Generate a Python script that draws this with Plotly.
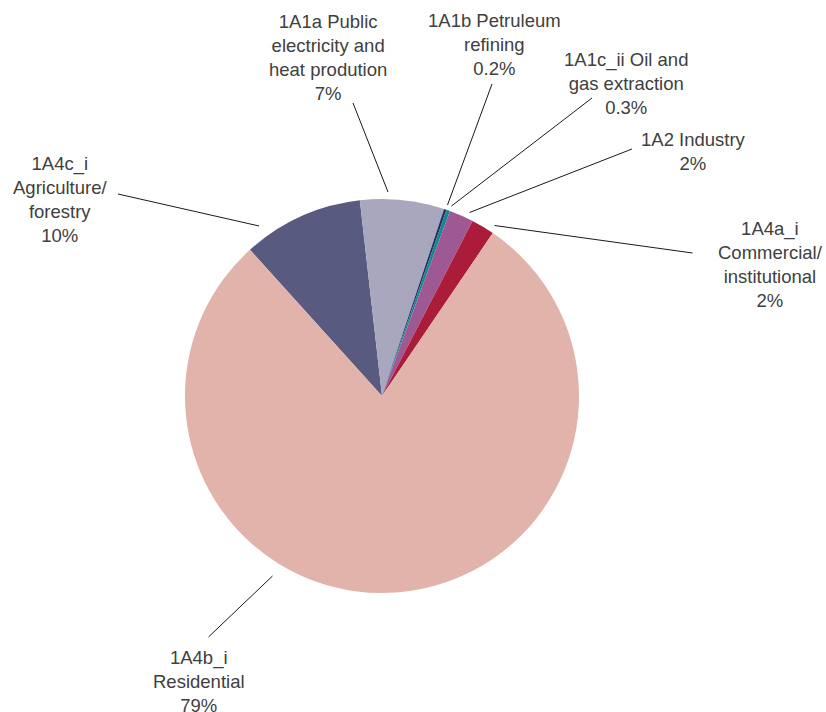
import plotly.graph_objects as go

W, H = 826, 712

# ---- data ----
categories = [
    "1A4c_i Agriculture/forestry",
    "1A1a Public electricity and heat prodution",
    "1A1b Petruleum refining",
    "1A1c_ii Oil and gas extraction",
    "1A2 Industry",
    "1A4a_i Commercial/institutional",
    "1A4b_i Residential",
]
shares = [9.9, 6.9, 0.2, 0.3, 2.0, 1.9, 78.8]
label_texts = [
    "1A4c_i<br>Agriculture/<br>forestry<br>10%",
    "1A1a Public<br>electricity and<br>heat prodution<br>7%",
    "1A1b Petruleum<br>refining<br>0.2%",
    "1A1c_ii Oil and<br>gas extraction<br>0.3%",
    "1A2 Industry<br>2%",
    "1A4a_i<br>Commercial/<br>institutional<br>2%",
    "1A4b_i<br>Residential<br>79%",
]

# ---- styles / layout ----
colors = ["#585a80", "#a9a7be", "#1f2f66", "#16878c", "#9e5894", "#aa1c3a", "#e1b3aa"]
label_pos = [(60, 199), (328, 57), (494, 45), (626, 83), (693, 152), (770, 265), (199, 681)]
leaders = [
    ((118, 194), (259, 226)),
    ((353, 103), (388, 192)),
    ((492, 84), (447.5, 205)),
    ((592, 98), (451.5, 206)),
    ((632, 149), (469.5, 212.5)),
    ((692.5, 253), (494.5, 225.5)),
    ((272.5, 576), (208.5, 637)),
]


def px(x):
    return x / W


def py(y):
    return 1 - y / H


fig = go.Figure(
    go.Pie(
        labels=categories,
        values=shares,
        sort=False,
        direction="clockwise",
        rotation=-42.1,
        marker=dict(colors=colors, line=dict(width=0)),
        textinfo="none",
        hoverinfo="label+percent",
        domain=dict(x=[px(185), px(579)], y=[py(593), py(199)]),
        showlegend=False,
    )
)

font = dict(family="Liberation Sans, Arial, sans-serif", size=18.5, color="#404040")

annotations = []
for txt, (x, y) in zip(label_texts, label_pos):
    annotations.append(
        dict(
            x=px(x), y=py(y), xref="paper", yref="paper",
            text=txt, showarrow=False, xanchor="center", yanchor="middle",
            align="center", font=font,
        )
    )

shapes = []
for (x0, y0), (x1, y1) in leaders:
    shapes.append(
        dict(
            type="line", xref="paper", yref="paper",
            x0=px(x0), y0=py(y0), x1=px(x1), y1=py(y1),
            line=dict(color="#1a1a1a", width=1),
        )
    )

fig.update_layout(
    width=W, height=H,
    margin=dict(l=0, r=0, t=0, b=0),
    paper_bgcolor="white",
    plot_bgcolor="white",
    annotations=annotations,
    shapes=shapes,
)

fig.write_html(
    "out.html",
    config={"displayModeBar": False},
    post_script="document.body.style.margin='0';document.body.style.overflow='hidden';",
)
